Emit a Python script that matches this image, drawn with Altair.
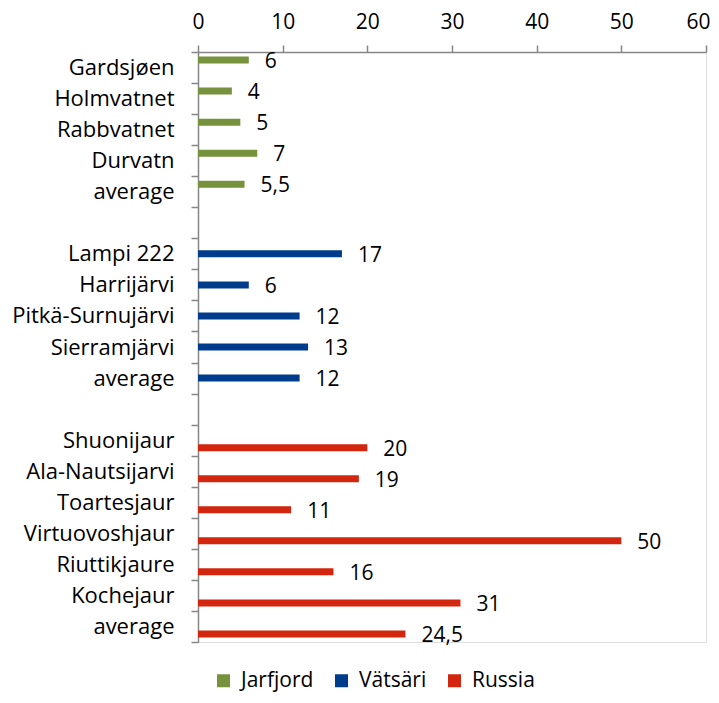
import altair as alt
import pandas as pd

jarfjord_lakes = ["Gardsjøen", "Holmvatnet", "Rabbvatnet", "Durvatn", "average"]
jarfjord_values = [6, 4, 5, 7, 5.5]
vatsari_lakes = ["Lampi 222", "Harrijärvi", "Pitkä-Surnujärvi", "Sierramjärvi", "average"]
vatsari_values = [17, 6, 12, 13, 12]
russia_lakes = ["Shuonijaur", "Ala-Nautsijarvi", "Toartesjaur", "Virtuovoshjaur",
                "Riuttikjaure", "Kochejaur", "average"]
russia_values = [20, 19, 11, 50, 16, 31, 24.5]
series_names = ["Jarfjord", "Vätsäri", "Russia"]
series_colors = ["#76923C", "#003C8C", "#D3260E"]
x_ticks = [0, 10, 20, 30, 40, 50, 60]

rows = []
domain = []
groups = [("Jarfjord", jarfjord_lakes, jarfjord_values),
          ("Vätsäri", vatsari_lakes, vatsari_values),
          ("Russia", russia_lakes, russia_values)]
for gi, (s, lakes, vals) in enumerate(groups):
    for lake, v in zip(lakes, vals):
        key = f"{s}|{lake}"
        domain.append(key)
        rows.append({"key": key, "series": s, "value": v})
    if gi < len(groups) - 1:
        domain.append(f"gap{gi}|")
df = pd.DataFrame(rows)

FONT = "Open Sans"
FS = 21
FSW = 22
AX = "#868686"

y_enc = alt.Y("key:N", scale=alt.Scale(domain=domain, paddingInner=0, paddingOuter=0),
              axis=alt.Axis(title=None, labelExpr="split(datum.value, '|')[1]",
                            tickBand="extent", tickSize=7, tickColor=AX, tickWidth=1.5,
                            domainColor=AX, domainWidth=1.5, labelFontSize=FSW,
                            labelColor="#000000", labelPadding=17, labelFont=FONT,
                            labelLimit=300))
yoff = alt.YOffset("series:N", scale=alt.Scale(domain=series_names, paddingInner=0,
                                                 paddingOuter=0.57))
x_enc = alt.X("value:Q", scale=alt.Scale(domain=[0, 60], nice=False),
              axis=alt.Axis(orient="top", title=None, values=x_ticks, grid=False,
                            tickSize=7, tickColor=AX, tickWidth=1.5, domainColor=AX,
                            domainWidth=1.5, labelFontSize=FS, labelColor="#000000",
                            labelPadding=13, labelFlush=False, labelFont=FONT,
                            labelAlign={"condition": {"test": "datum.value === 60",
                                                      "value": "right"},
                                        "value": "center"},
                            labelOffset={"condition": {"test": "datum.value === 60",
                                                       "value": 4},
                                         "value": 0}))
color = alt.Color("series:N", scale=alt.Scale(domain=series_names, range=series_colors),
                  legend=alt.Legend(title=None, orient="none", legendX=15, legendY=618,
                                    direction="horizontal", symbolType="square",
                                    symbolSize=169, symbolStrokeWidth=0,
                                    labelFontSize=FS, labelFont=FONT, labelColor="#000000",
                                    labelOffset=7, columnPadding=17))

bars = alt.Chart(df).mark_bar(size=7).encode(y=y_enc, yOffset=yoff, x=x_enc, color=color)
labels = alt.Chart(df).transform_calculate(
    lab="replace(toString(datum.value), '.', ',')"
).mark_text(align="left", baseline="middle", dx=16, dy=2, fontSize=FS, font=FONT,
            color="#000000").encode(y=alt.Y("key:N"), yOffset=alt.YOffset("series:N"),
                                     x=alt.X("value:Q"), text="lab:N")

chart = alt.layer(bars, labels).properties(
    width=508, height=590,
    padding={"left": 190, "top": 44, "right": 5, "bottom": 52},
    autosize=alt.AutoSizeParams(type="none"),
).configure_view(stroke=None).configure(font=FONT)

chart.save("out.html", embed_options={"renderer": "svg", "actions": False})
